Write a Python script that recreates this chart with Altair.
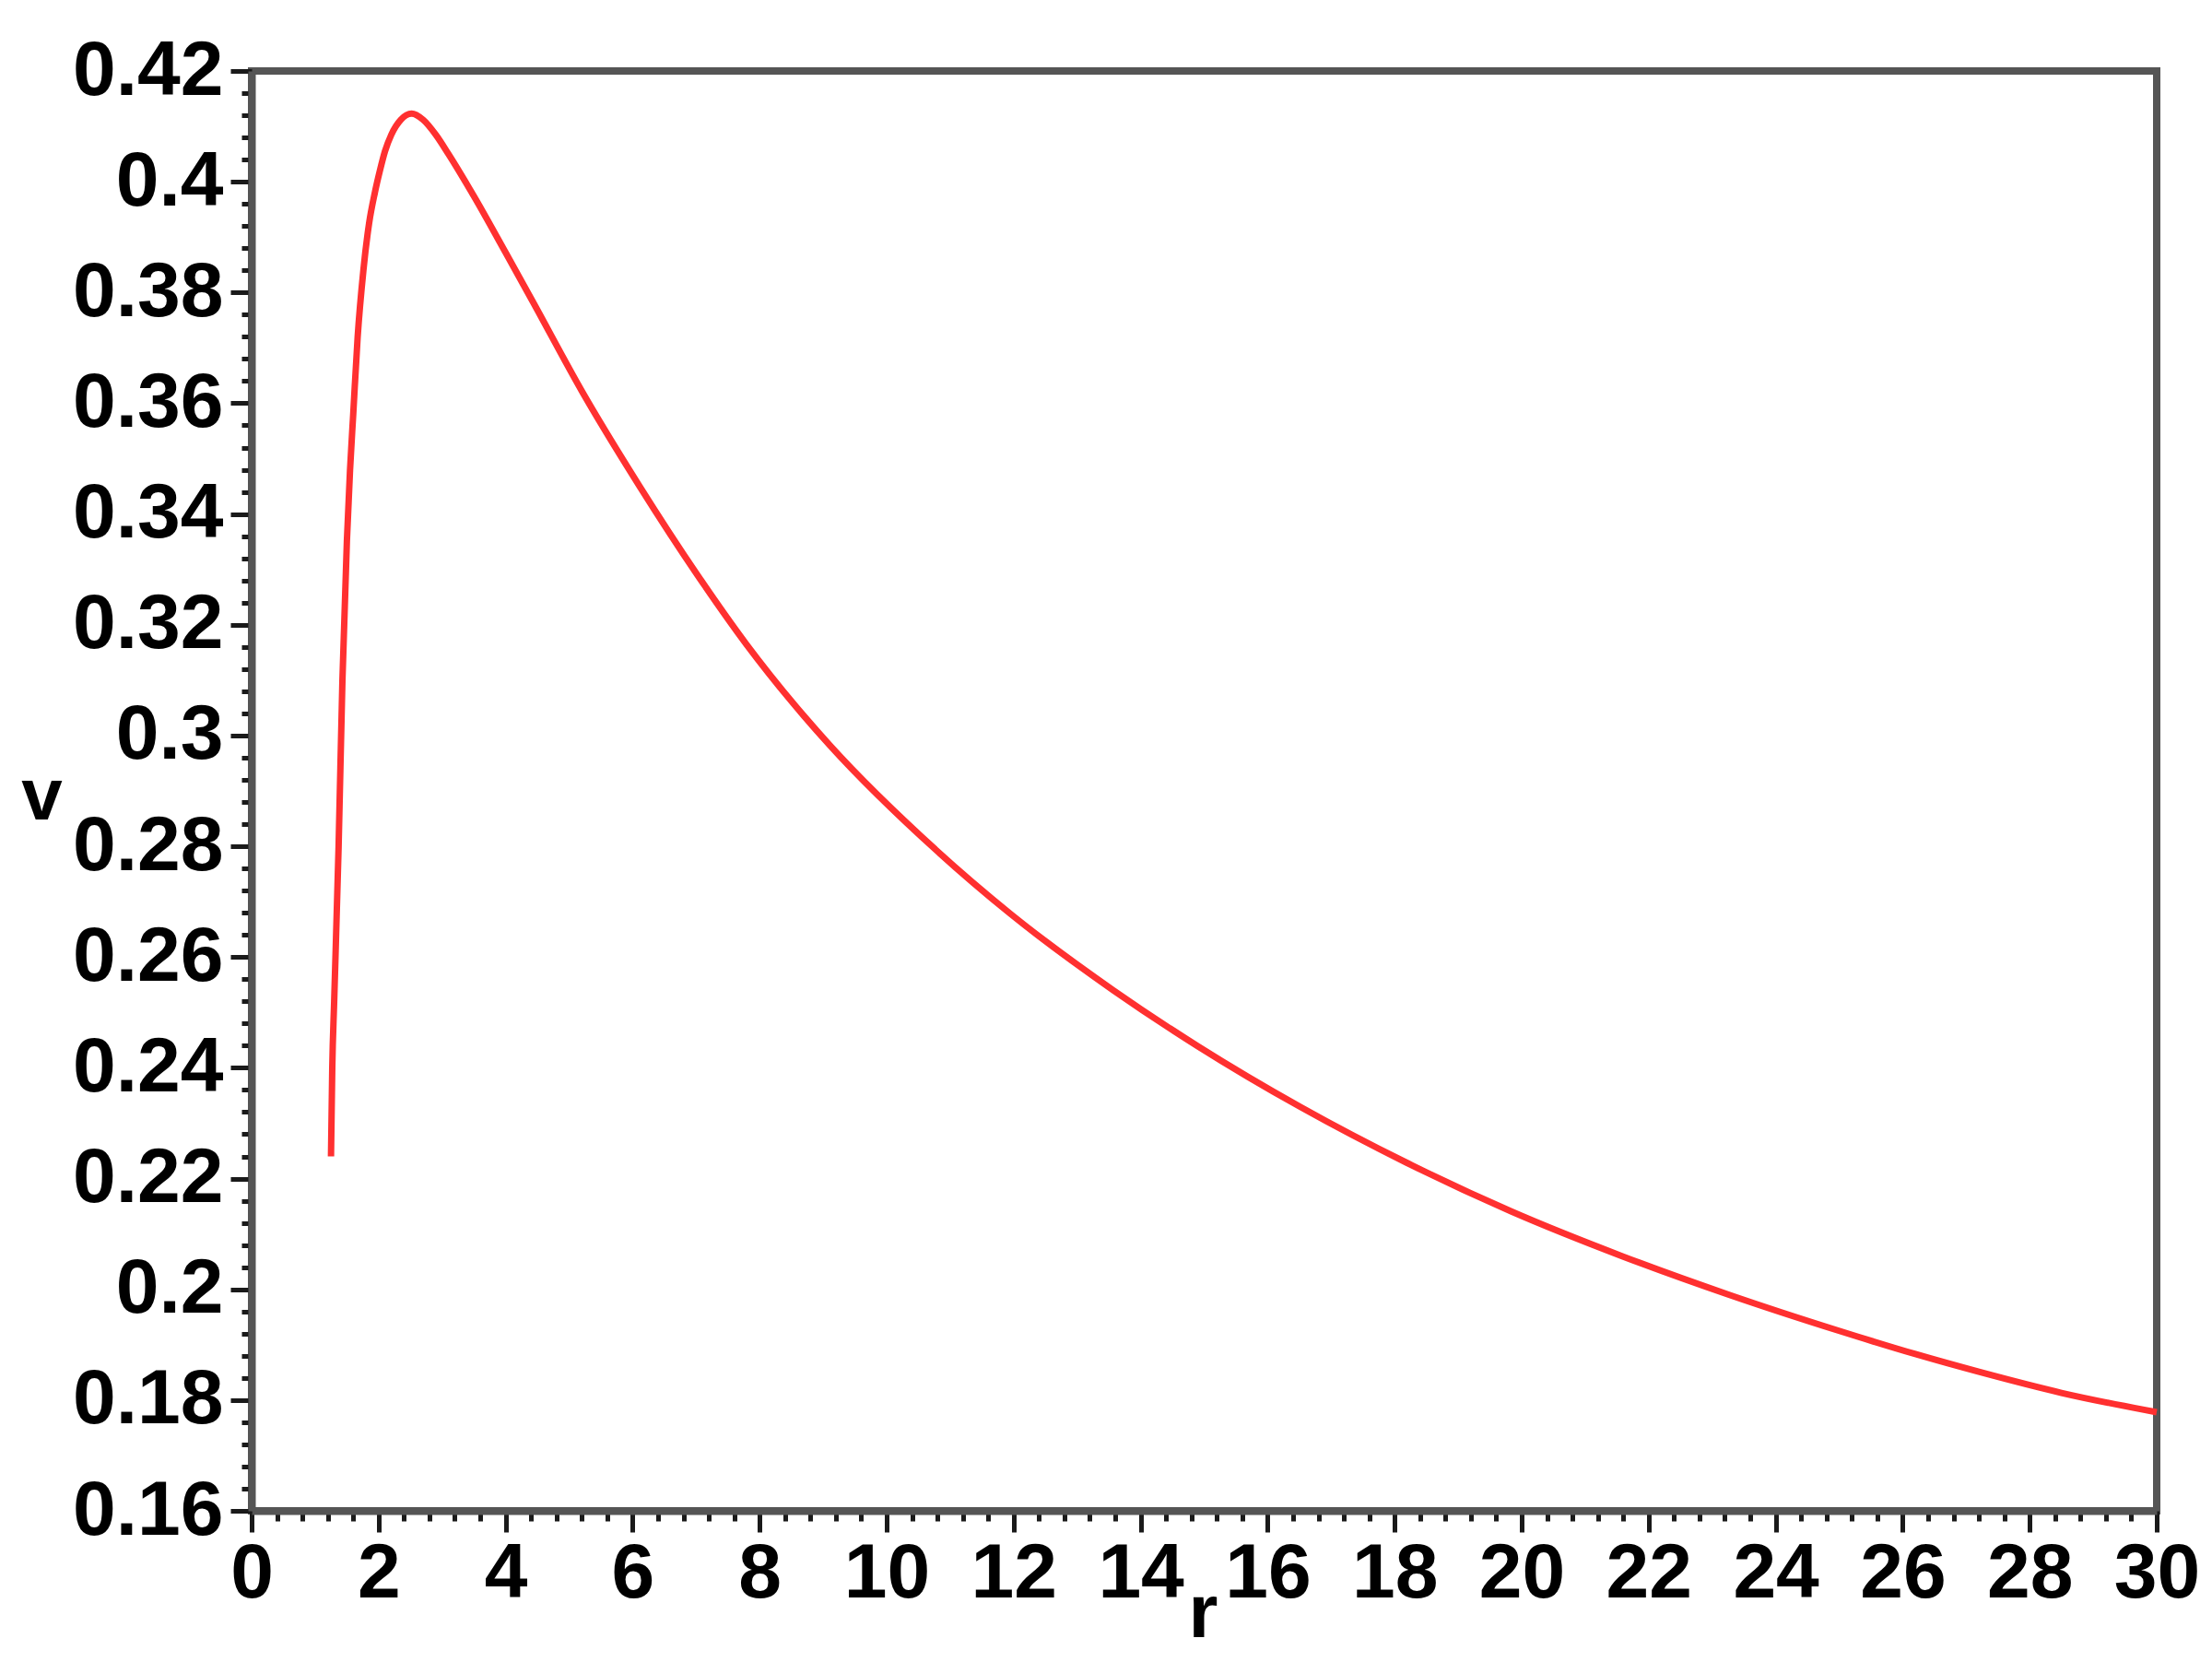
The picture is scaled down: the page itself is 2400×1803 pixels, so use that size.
import altair as alt
import pandas as pd

# curve
r_vals = [1.25, 1.27, 1.30, 1.37, 1.43, 1.50, 1.55, 1.60, 1.67, 1.76, 1.85, 1.94, 2.02,
          2.10, 2.20, 2.35, 2.52, 2.70, 2.90, 3.10, 3.50, 4.00, 4.43, 5.20, 6.11, 7.02,
          7.79, 8.70, 9.10, 10.78, 11.95, 13.57, 14.90, 16.52, 18.27, 19.83, 21.58,
          23.27, 25.00, 26.20, 27.20, 28.50, 30.00]
v_vals = [0.224, 0.240, 0.252, 0.280, 0.310, 0.335, 0.348, 0.358, 0.372, 0.384, 0.3925,
          0.398, 0.402, 0.4055, 0.4085, 0.4112, 0.4123, 0.4112, 0.4085, 0.4050, 0.3974,
          0.3872, 0.3783, 0.3622, 0.3450, 0.3290, 0.3165, 0.3035, 0.2983, 0.2793, 0.2678,
          0.2540, 0.2439, 0.2329, 0.2224, 0.2141, 0.2060, 0.1990, 0.1925, 0.1883, 0.1851,
          0.1813, 0.1778]

# axis ticks (majors labelled, minors unlabelled)
x_major = [0, 2, 4, 6, 8, 10, 12, 14, 16, 18, 20, 22, 24, 26, 28, 30]
x_ticks = [round(i * 0.4, 2) for i in range(76)]
y_major = [0.16, 0.18, 0.2, 0.22, 0.24, 0.26, 0.28, 0.3, 0.32, 0.34, 0.36, 0.38, 0.4, 0.42]
y_ticks = [round(0.16 + i * 0.004, 3) for i in range(66)]

df = pd.DataFrame({"r": r_vals, "v": v_vals})

FONT = "Liberation Sans"
AX = "#555555"
TK = "#1a1a1a"

x_axis = alt.Axis(
    values=x_ticks,
    labelExpr="abs(datum.value/2 - round(datum.value/2)) < 0.001 ? format(datum.value, 'd') : ''",
    labelOverlap=False,
    labelFlush=False,
    labelFont=FONT, labelFontSize=84, labelFontWeight="bold", labelColor="black",
    labelPadding=4,
    tickSize={"condition": {"test": "abs(datum.value/2 - round(datum.value/2)) < 0.001", "value": 23}, "value": 11},
    tickColor=TK, tickWidth=5,
    domainColor=AX, domainWidth=8,
    grid=False,
    title="r",
    titleFont=FONT, titleFontSize=82, titleFontWeight="bold", titleColor="black",
    titleBaseline="alphabetic", titleAlign="center",
    titleX=1032, titleY=136,
)

y_axis = alt.Axis(
    values=y_ticks,
    labelExpr="abs(datum.value*50 - round(datum.value*50)) < 0.01 ? format(datum.value, '.2~f') : ''",
    labelOverlap=False,
    labelFlush=False,
    labelFont=FONT, labelFontSize=84, labelFontWeight="bold", labelColor="black",
    labelPadding=8,
    tickSize={"condition": {"test": "abs(datum.value*50 - round(datum.value*50)) < 0.01", "value": 23}, "value": 11},
    tickColor=TK, tickWidth=5,
    domainColor=AX, domainWidth=8,
    grid=False,
    title="v",
    titleAngle=0,
    titleFont=FONT, titleFontSize=80, titleFontWeight="bold", titleColor="black",
    titleBaseline="alphabetic", titleAlign="center",
    titleX=-228, titleY=811,
)

chart = alt.Chart(df).mark_line(color="#ff3030", strokeWidth=7, interpolate="monotone").encode(
    x=alt.X("r:Q", scale=alt.Scale(domain=[0, 30], nice=False, zero=False), axis=x_axis),
    y=alt.Y("v:Q", scale=alt.Scale(domain=[0.16, 0.42], nice=False, zero=False), axis=y_axis),
).properties(
    width=2067,
    height=1562,
    autosize=alt.AutoSizeParams(type="none"),
    padding={"left": 265, "top": 69, "right": 52, "bottom": 155},
    background="white",
).configure_view(
    stroke=AX, strokeWidth=8
)

chart.save("out.html", embed_options={"renderer": "svg", "actions": False})
